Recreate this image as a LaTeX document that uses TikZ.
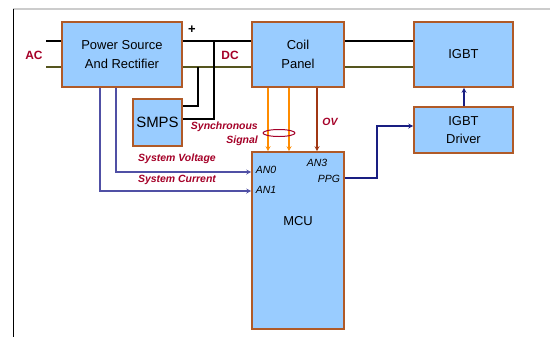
\documentclass[tikz,border=0pt]{standalone}
\usepackage{fontspec}
\setmainfont{Liberation Sans}
\usetikzlibrary{arrows.meta,calc}
\definecolor{boxfill}{RGB}{153,204,255}
\definecolor{boxline}{RGB}{176,90,40}
\definecolor{lbl}{RGB}{165,0,40}
\definecolor{sysblue}{RGB}{80,80,165}
\definecolor{navy}{RGB}{25,30,130}
\definecolor{orng}{RGB}{255,140,0}
\definecolor{brn}{RGB}{160,55,20}
\definecolor{olive}{RGB}{85,85,30}
\tikzset{
  blk/.style={rectangle, draw=boxline, line width=1.6pt, fill=boxfill, inner sep=0pt, align=center, font=\fontsize{13}{18.5}\selectfont},
  lab/.style={text=lbl, font=\fontsize{10.5}{14}\selectfont\bfseries\itshape, inner sep=0pt},
  big/.style={text=lbl, font=\fontsize{12}{14}\selectfont\bfseries, inner sep=0pt},
  pin/.style={font=\fontsize{10.5}{12}\selectfont\itshape, inner sep=0pt},
  wire/.style={line width=1.6pt},
  tip/.style={-{Stealth[length=5pt,width=5pt]}},
}
\begin{document}
\begin{tikzpicture}[x=1bp,y=-1bp]
\useasboundingbox (0,0) rectangle (550,337);
\fill[white] (0,0) rectangle (550,337);
% frame
\draw[line width=2pt, black!20] (13,9) -- (550,9);
\draw[line width=1pt, black] (13,9) -- (13,337);
% blocks
\node[blk, minimum width=120bp, minimum height=65bp] (ps) at (122,54.5) {Power Source\\And Rectifier};
\node[blk, minimum width=92bp, minimum height=65bp] (coil) at (298,54.5) {Coil\\Panel};
\node[blk, minimum width=99bp, minimum height=65bp] (igbt) at (463.5,54.5) {IGBT};
\node[blk, minimum width=99bp, minimum height=46bp] (drv) at (463.5,130) {IGBT\\Driver};
\node[blk, minimum width=49bp, minimum height=47bp, font=\fontsize{15}{18}\selectfont] (smps) at (157.5,122.5) {SMPS};
\node[blk, minimum width=92bp, minimum height=177bp] (mcu) at (298,240.5) {};
\node[font=\fontsize{13}{15}\selectfont, inner sep=0pt] (mcut) at (298,221) {MCU};
% helper coordinates
\coordinate (ac1) at (46,41);
\coordinate (ac2) at (46,67);
\coordinate (jb) at (198,67);
\coordinate (jt) at (214,41);
\coordinate (sv) at (116,172);
\coordinate (sc) at (100,191);
\coordinate (o1) at (268,0);
\coordinate (o2) at (289,0);
\coordinate (ov) at (317,0);
\coordinate (pp) at (377,178);
\coordinate (dv) at (377,126);
\coordinate (dr) at (464,0);
% power wires
\draw[wire] (ac1) -- (ps.west |- ac1);
\draw[wire, olive] (ac2) -- (ps.west |- ac2);
\draw[wire] (ps.east |- ac1) -- (coil.west |- ac1);
\draw[wire, olive] (ps.east |- ac2) -- (coil.west |- ac2);
\draw[wire] (coil.east |- ac1) -- (igbt.west |- ac1);
\draw[wire, olive] (coil.east |- ac2) -- (igbt.west |- ac2);
\draw[wire] (smps.east |- 0,106) -| (jb);
\draw[wire] (smps.east |- 0,119) -| (jt);
% system signals
\draw[wire, sysblue, tip] (ps.south -| sv) |- (mcu.west |- sv);
\draw[wire, sysblue, tip] (ps.south -| sc) |- (mcu.west |- sc);
% coil to mcu
\draw[wire, orng, tip] (coil.south -| o1) -- (mcu.north -| o1);
\draw[wire, orng, tip] (coil.south -| o2) -- (mcu.north -| o2);
\draw[wire, brn, tip] (coil.south -| ov) -- (mcu.north -| ov);
\draw[line width=1pt, lbl] (279,133) ellipse [x radius=16, y radius=3.5];
% PPG
\draw[wire, navy, tip] (mcu.east |- pp) -- (pp) -- (dv) -- (drv.west |- dv);
\draw[wire, navy, tip] (drv.north -| dr) -- (igbt.south -| dr);
% labels
\node[big] (acl) at (34,55) {AC};
\node[big] (dcl) at (230,55) {DC};
\node[font=\fontsize{13}{14}\selectfont\bfseries, inner sep=0pt] (plus) at (192,30) {+};
\node[lab, align=right, anchor=east] (syn) at (258,134) {Synchronous\\Signal};
\node[lab] (svl) at (177,159) {System Voltage};
\node[lab] (scl) at (177,180) {System Current};
\node[lab] (ovl) at (330,122) {OV};
\node[pin] (an0) at (266,170) {AN0};
\node[pin] (an1) at (266,190) {AN1};
\node[pin] (an3) at (317,163) {AN3};
\node[pin] (ppg) at (329,179) {PPG};
\end{tikzpicture}
\end{document}
